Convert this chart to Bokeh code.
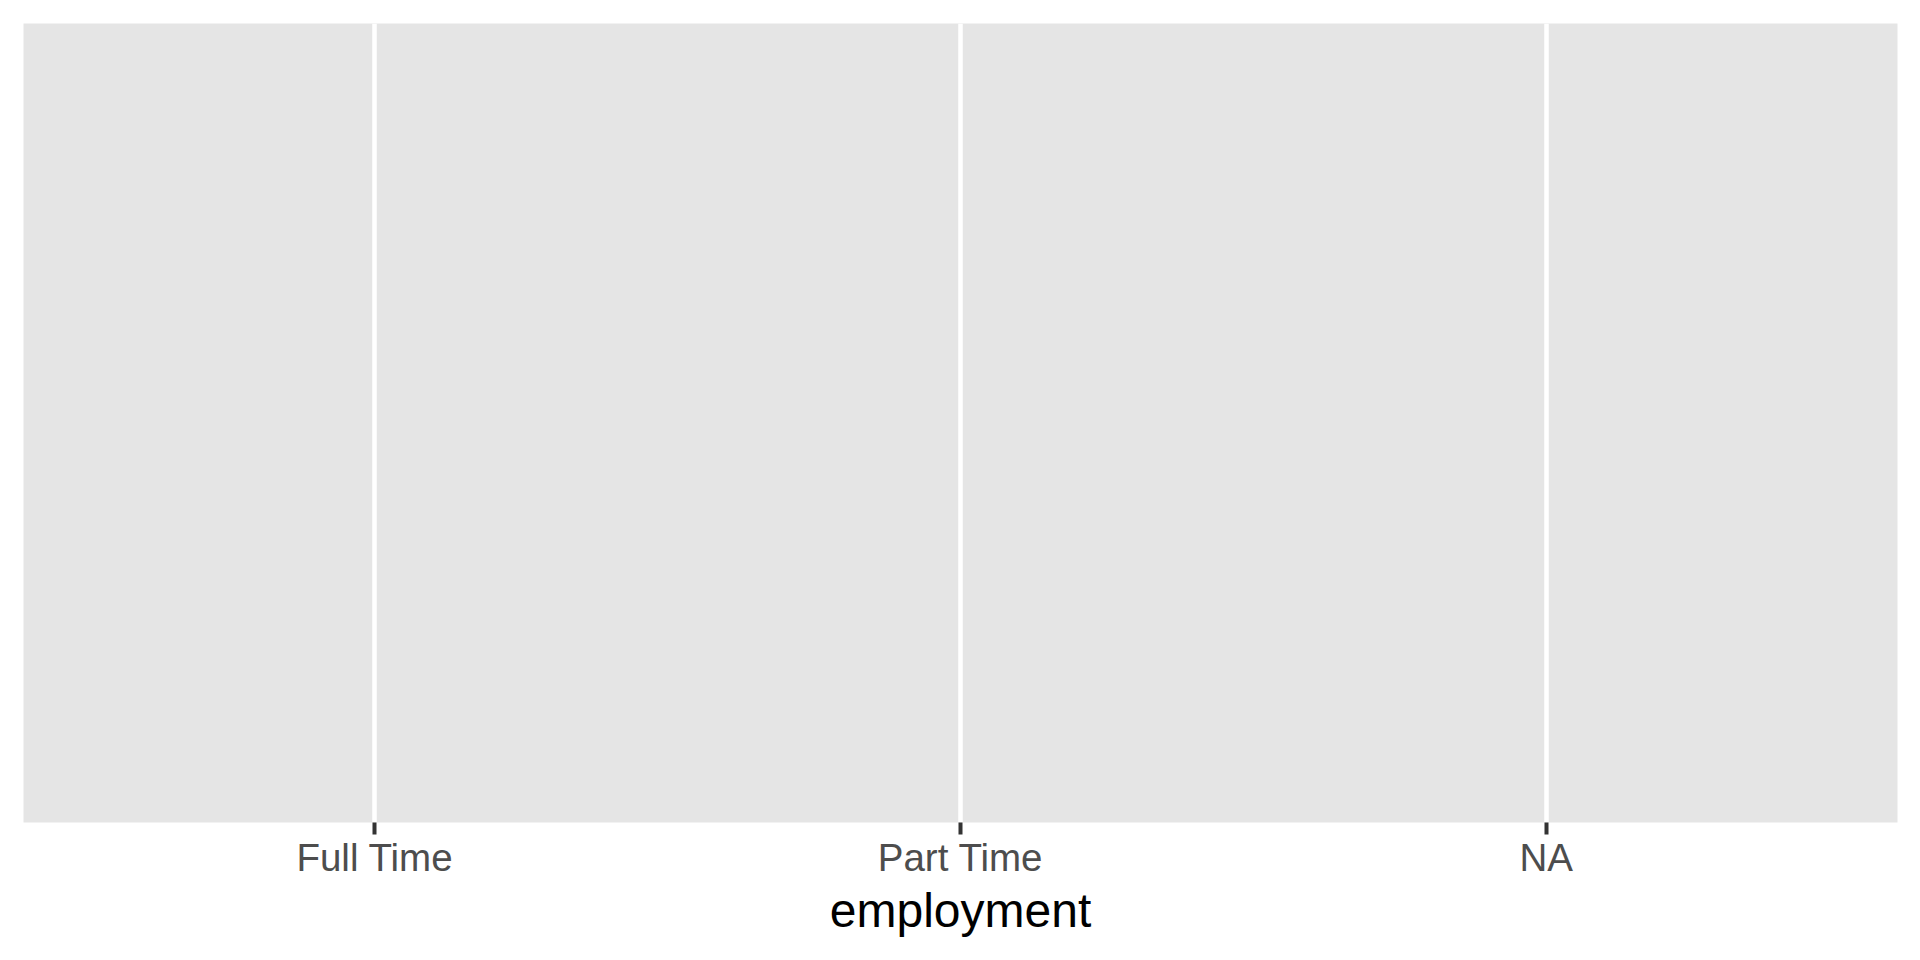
from bokeh.plotting import figure
from bokeh.models import FactorRange, Range1d
from bokeh.embed import file_html
from bokeh.resources import INLINE

# categories on the x axis (the panel is empty otherwise)
employment = ["Full Time", "Part Time", "NA"]

p = figure(
    x_range=FactorRange(factors=employment, range_padding=0.1,
                        range_padding_units="absolute"),
    y_range=Range1d(0, 1),
    frame_width=1874,
    frame_height=799,
    min_border_left=23,
    min_border_right=15,
    min_border_top=23,
    min_border_bottom=0,
    y_axis_location=None,
    toolbar_location=None,
    output_backend="svg",
)

p.background_fill_color = "#E5E5E5"
p.border_fill_color = "white"
p.outline_line_color = None

p.xgrid.grid_line_color = "white"
p.xgrid.grid_line_width = 4.5
p.ygrid.grid_line_color = None

p.xaxis.axis_line_color = None
p.xaxis.major_tick_line_color = "#333333"
p.xaxis.major_tick_line_width = 4
p.xaxis.major_tick_out = 12
p.xaxis.major_tick_in = 0
p.xaxis.minor_tick_line_color = None
p.xaxis.major_label_text_font = "Liberation Sans"
p.xaxis.major_label_text_font_size = "38.5px"
p.xaxis.major_label_text_color = "#4D4D4D"
p.xaxis.major_label_standoff = 1
p.xaxis.axis_label = "employment"
p.xaxis.axis_label_text_font = "Liberation Sans"
p.xaxis.axis_label_text_font_size = "48px"
p.xaxis.axis_label_text_font_style = "normal"
p.xaxis.axis_label_text_color = "black"
p.xaxis.axis_label_standoff = 2

open("out.html", "w").write(file_html(p, INLINE))
